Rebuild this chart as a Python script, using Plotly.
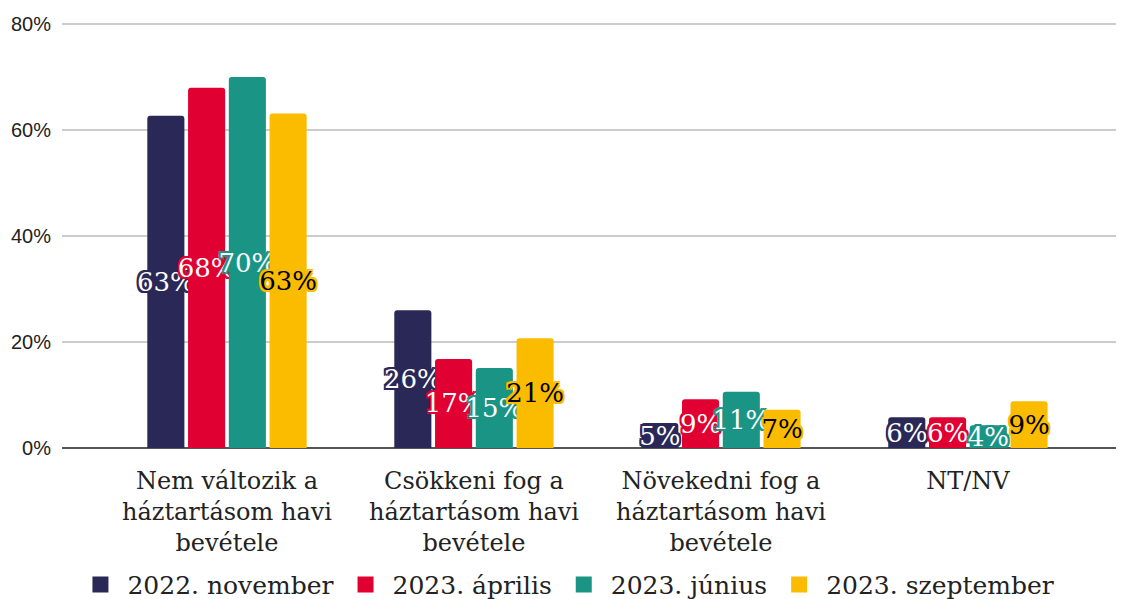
import plotly.graph_objects as go

categories = [
    "Nem változik a<br>háztartásom havi<br>bevétele",
    "Csökkeni fog a<br>háztartásom havi<br>bevétele",
    "Növekedni fog a<br>háztartásom havi<br>bevétele",
    "NT/NV",
]
series_names = ["2022. november", "2023. április", "2023. június", "2023. szeptember"]
nov_2022 = [62.7, 26.0, 4.7, 5.8]
apr_2023 = [68.0, 16.8, 9.2, 5.8]
jun_2023 = [70.0, 15.1, 10.6, 4.3]
sep_2023 = [63.1, 20.7, 7.2, 8.8]
colors = ["#2a2856", "#e10032", "#1a9585", "#fbbc00"]
text_colors = ["white", "white", "white", "black"]


def outline(c, w=2):
    parts = []
    for dx in (-w, 0, w):
        for dy in (-w, 0, w):
            if dx or dy:
                parts.append(f"{dx}px {dy}px 0 {c}")
    return ", ".join(parts)


fig = go.Figure()

for name, vals, col, tcol in zip(series_names, [nov_2022, apr_2023, jun_2023, sep_2023],
                                 colors, text_colors):
    fig.add_trace(go.Bar(
        x=categories, y=vals, name=name,
        marker=dict(color=col, line=dict(width=0)),
        text=[f"{round(v)}%" for v in vals],
        textposition="inside", insidetextanchor="middle",
        textangle=0, constraintext="none", cliponaxis=False,
        textfont=dict(family="DejaVu Serif", size=26, color=tcol, shadow=outline(col)),
        showlegend=False,
    ))
    # legend entry with a bigger square swatch
    fig.add_trace(go.Scatter(
        x=[None], y=[None], mode="markers", name=name,
        marker=dict(symbol="square", size=18, color=col),
    ))

# page body has an 8px margin, so the figure is a bit smaller than the window
fig.update_layout(
    width=1116, height=591,
    paper_bgcolor="white", plot_bgcolor="white",
    margin=dict(l=54, r=0, t=15, b=151),
    barmode="group", bargap=0.34, bargroupgap=0.09,
    barcornerradius=3,
    font=dict(family="DejaVu Serif", color="#222222"),
    xaxis=dict(
        range=[-0.668, 3.632], showgrid=False,
        tickfont=dict(family="DejaVu Serif", size=24, color="#222222"),
        ticks="", showline=False, automargin=False,
        ticklabelstandoff=16,
    ),
    yaxis=dict(
        range=[0, 80.2], dtick=20, ticksuffix="%",
        gridcolor="#cccccc", gridwidth=1.5,
        zeroline=True, zerolinecolor="#555555", zerolinewidth=1.5,
        tickfont=dict(family="Liberation Sans", size=20, color="#222222"),
        ticklabelstandoff=10, automargin=False,
    ),
    legend=dict(
        orientation="h", x=0.475, xanchor="center",
        yref="container", y=0.024, yanchor="middle",
        font=dict(family="DejaVu Serif", size=25, color="#222222"),
        itemsizing="trace", itemwidth=44,
    ),
)

fig.write_html("out.html")
